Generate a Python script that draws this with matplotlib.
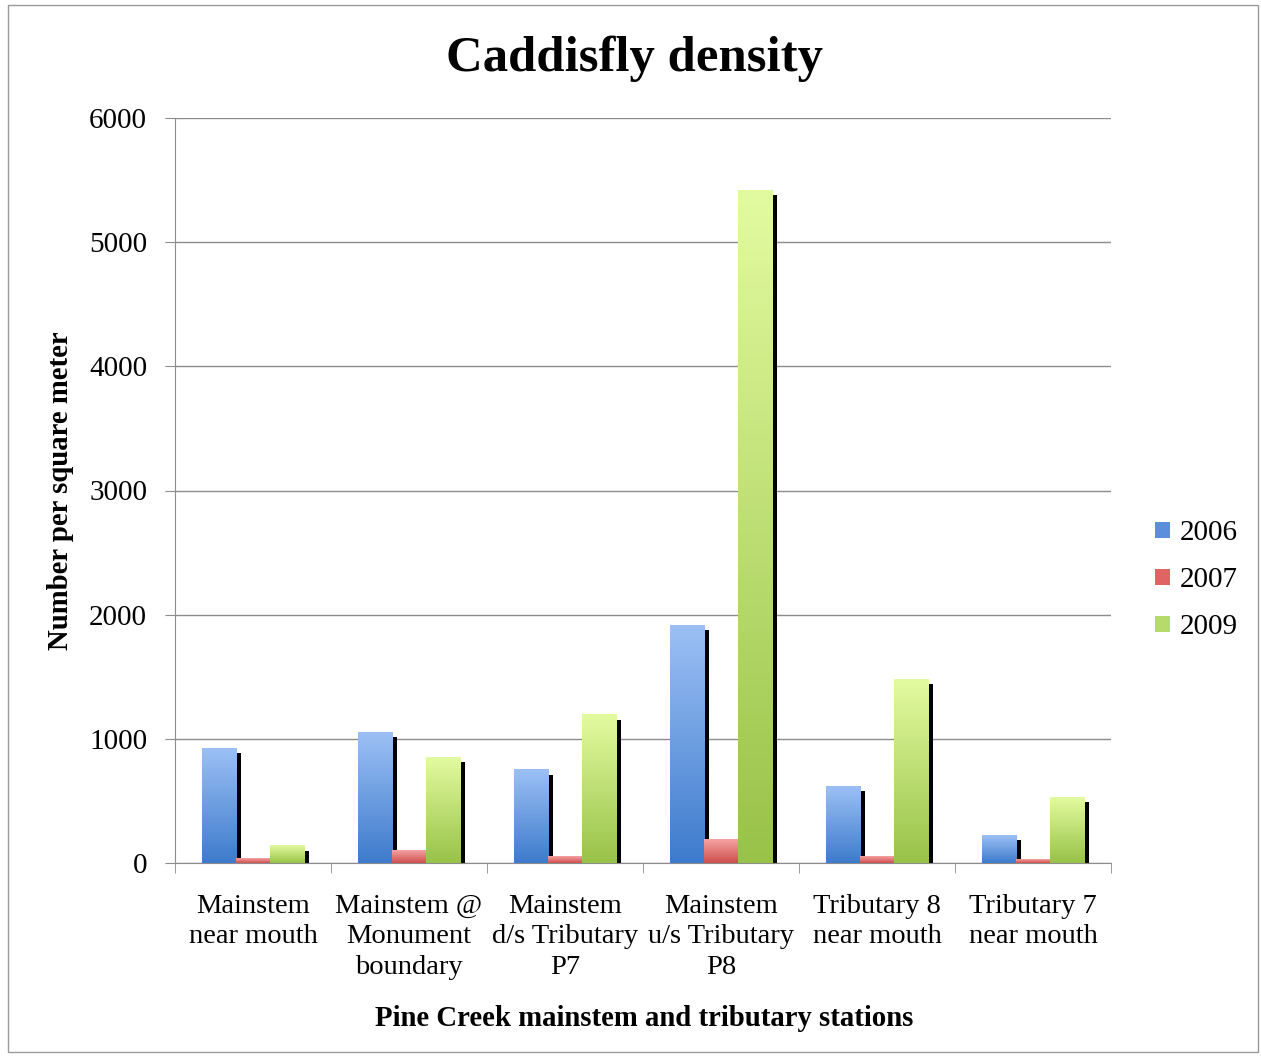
import numpy as np
import matplotlib
matplotlib.use("Agg")
import matplotlib.pyplot as plt
from matplotlib.colors import LinearSegmentedColormap
from matplotlib.patches import Rectangle, Patch
from matplotlib import transforms

stations = ["Mainstem\nnear mouth", "Mainstem @\nMonument\nboundary",
            "Mainstem\nd/s Tributary\nP7", "Mainstem\nu/s Tributary\nP8",
            "Tributary 8\nnear mouth", "Tributary 7\nnear mouth"]
years = ["2006", "2007", "2009"]
d2006 = [925, 1055, 750, 1915, 620, 225]
d2007 = [35, 97, 56, 193, 56, 28]
d2009 = [137, 853, 1192, 5419, 1481, 531]
series = [d2006, d2007, d2009]

# top (light) -> bottom (dark)
grads = [("#9cc0f5", "#3d7bcc"), ("#f5a3a3", "#cf4e4e"), ("#e3fba0", "#98c248")]
legend_cols = ["#5b8fdc", "#e06464", "#b5dc6a"]

plt.rcParams["font.family"] = "Liberation Serif"

fig = plt.figure(figsize=(12.61, 10.57), dpi=100)
ax = fig.add_axes([175 / 1261, 1 - 863 / 1057, (1111 - 175) / 1261, (863 - 118) / 1057])

x = np.arange(len(stations))
w = 0.22
shadow_tr = transforms.offset_copy(ax.transData, fig=fig, x=5, y=-5, units="dots")

for i, vals in enumerate(series):
    pos = x + (i - 1) * w
    # black drop shadow behind all bars
    ax.bar(pos, vals, w, color="black", transform=shadow_tr, zorder=2)
    cmap = LinearSegmentedColormap.from_list("g%d" % i, [grads[i][1], grads[i][0]])
    grad = np.linspace(0, 1, 256).reshape(-1, 1)
    for p, v in zip(pos, vals):
        ax.imshow(grad, cmap=cmap, origin="lower", aspect="auto",
                  extent=[p - w / 2, p + w / 2, 0, v], zorder=3, interpolation="bilinear")

ax.set_xlim(-0.5, len(stations) - 0.5)
ax.set_ylim(0, 6000)
ax.set_aspect("auto")
ax.set_yticks(range(0, 6001, 1000))
ax.yaxis.grid(True, color="#8c8c8c", linewidth=1.0)
ax.set_axisbelow(True)

ax.set_xticks(x)
ax.set_xticklabels(stations, fontsize=20.5, linespacing=1.3)
ax.set_xticks(np.arange(-0.5, len(stations)), minor=True)
ax.tick_params(axis="x", which="major", length=0, pad=22)
ax.tick_params(axis="x", which="minor", length=7, color="#8c8c8c", direction="out")
ax.tick_params(axis="y", length=7, color="#8c8c8c", labelsize=21, pad=13)

for s in ["top", "right"]:
    ax.spines[s].set_visible(False)
for s in ["left", "bottom"]:
    ax.spines[s].set_color("#8c8c8c")

fig.text(0.503, 0.944, "Caddisfly density", ha="center", va="center",
         fontsize=36.5, fontweight="bold")
fig.text(0.511, 0.036, "Pine Creek mainstem and tributary stations", ha="center",
         va="center", fontsize=20.7, fontweight="bold")
fig.text(0.048, 0.5355, "Number per square meter", ha="center", va="center",
         rotation=90, fontsize=20.7, fontweight="bold")

handles = [Patch(facecolor=c, edgecolor="none") for c in legend_cols]
fig.legend(handles, years, loc="center left", bbox_to_anchor=(0.916, 0.451),
           frameon=False, fontsize=21, handlelength=0.5, handleheight=0.5,
           labelspacing=0.72, handletextpad=0.35, borderaxespad=0, borderpad=0)

fig.patches.append(Rectangle((8 / 1261, 5 / 1057), 1250 / 1261, 1047 / 1057,
                             transform=fig.transFigure, fill=False,
                             edgecolor="#9a9a9a", linewidth=1))

fig.savefig("out.png", dpi=100, facecolor="white")
